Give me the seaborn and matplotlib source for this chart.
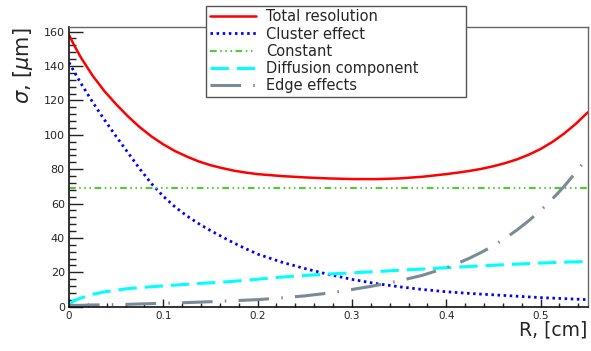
import numpy as np
import pandas as pd
import matplotlib
matplotlib.use("Agg")
import matplotlib.pyplot as plt
from matplotlib.ticker import MultipleLocator
import seaborn as sns

# ---- data ----
R = [0.0, 0.005, 0.0125, 0.025, 0.0375, 0.05, 0.0625, 0.075, 0.0875, 0.1,
     0.1125, 0.125, 0.1375, 0.15, 0.1625, 0.175, 0.1875, 0.2,
     0.225, 0.25, 0.275, 0.3, 0.325, 0.35, 0.375, 0.4,
     0.4125, 0.425, 0.4375, 0.45, 0.4625, 0.475, 0.4875, 0.5,
     0.5125, 0.525, 0.5375, 0.55]
total = [158.0, 152.5, 145.0, 134.4, 125.4, 117.7, 110.7, 104.4, 99.0, 94.4,
         90.5, 87.3, 84.5, 82.3, 80.6, 79.1, 78.0, 77.1,
         76.0, 75.2, 74.6, 74.25, 74.2, 74.6, 75.6, 77.1,
         78.0, 79.0, 80.2, 81.7, 83.5, 85.7, 88.4, 91.7,
         95.8, 100.7, 106.4, 113.0]
cluster = [142.0, 137.1, 130.0, 119.0, 108.75, 99.0, 89.6, 80.2, 71.5, 64.2,
           58.0, 52.8, 48.3, 44.3, 40.6, 37.0, 33.7, 30.6,
           26.0, 22.2, 18.8, 15.9, 13.5, 11.6, 10.0, 8.7,
           8.2, 7.7, 7.3, 6.9, 6.5, 6.1, 5.7, 5.3,
           5.0, 4.7, 4.4, 4.1]
constant = [69.0] * len(R)
diffusion = [1.0, 3.5, 5.0, 7.2, 8.6, 9.6, 10.5, 11.1, 11.6, 12.1,
             12.6, 13.0, 13.5, 13.9, 14.3, 14.8, 15.4, 16.0,
             17.2, 18.2, 19.0, 19.7, 20.4, 21.2, 21.9, 22.7,
             23.05, 23.4, 23.75, 24.1, 24.45, 24.8, 25.1, 25.4,
             25.65, 25.9, 26.1, 26.3]
edge = [0.7, 0.75, 0.8, 1.0, 1.1, 1.2, 1.4, 1.6, 1.8, 2.0,
        2.2, 2.4, 2.65, 2.9, 3.2, 3.5, 3.8, 4.1,
        5.1, 6.3, 7.9, 10.0, 12.3, 15.0, 18.3, 22.7,
        25.3, 28.3, 31.7, 35.5, 39.8, 44.6, 50.0, 56.0,
        62.6, 70.0, 78.2, 87.0]

labels = ["Total resolution", "Cluster effect", "Constant",
          "Diffusion component", "Edge effects"]
series = [total, cluster, constant, diffusion, edge]

sns.set_theme(style="ticks")
plt.rcParams["font.family"] = ["DejaVu Sans"]
plt.rcParams["mathtext.fontset"] = "dejavusans"

fig = plt.figure(figsize=(5.91, 3.51), dpi=100)
ax = fig.add_axes([0.1168, 0.1262, 0.9944 - 0.1168, 0.9222 - 0.1262])

styles = [
    dict(color="#ff0000", lw=1.8, linestyle="-"),
    dict(color="#0000ff", lw=2.0, linestyle=(0, (0.9, 1.3))),
    dict(color="#55c83c", lw=1.6, linestyle=(0, (3.0, 1.6, 0.7, 1.6, 0.7, 1.6, 0.7, 1.6))),
    dict(color="#00ffff", lw=2.2, linestyle=(0, (6.0, 2.6))),
    dict(color="#7a8a96", lw=2.2, linestyle=(0, (10.0, 4.0, 0.5, 4.0))),
]

for vals, lab, st in zip(series, labels, styles):
    df = pd.DataFrame({"R": R, "sigma": vals})
    sns.lineplot(data=df, x="R", y="sigma", ax=ax, label=lab, **st)

ax.set_xlim(0, 0.55)
ax.set_ylim(0, 162.5)
ax.xaxis.set_major_locator(MultipleLocator(0.1))
ax.xaxis.set_minor_locator(MultipleLocator(0.02))
ax.yaxis.set_major_locator(MultipleLocator(20))
ax.yaxis.set_minor_locator(MultipleLocator(4))
ax.set_xticks([0, 0.1, 0.2, 0.3, 0.4, 0.5])
ax.set_xticklabels(["0", "0.1", "0.2", "0.3", "0.4", "0.5"])

ax.tick_params(axis="y", which="major", direction="in", length=10, width=1, labelsize=8, pad=3, color="#222222")
ax.tick_params(axis="y", which="minor", direction="in", length=5, width=1, color="#222222")
ax.tick_params(axis="x", which="major", direction="in", length=6, width=1, labelsize=7.5, pad=3, color="#222222")
ax.tick_params(axis="x", which="minor", direction="in", length=3, width=1, color="#222222")

for s in ["left", "bottom"]:
    ax.spines[s].set_color("#111111")
    ax.spines[s].set_linewidth(1.2)
for s in ["top", "right"]:
    ax.spines[s].set_visible(True)
    ax.spines[s].set_color("#666666")
    ax.spines[s].set_linewidth(1.0)

ax.set_xlabel("R, [cm]", fontsize=13.5, loc="right")
ax.xaxis.set_label_coords(1.0, -0.05)
ax.xaxis.label.set_va("top")
ax.set_ylabel(r"$\sigma$, [$\mu$m]", fontsize=15, loc="top")
ax.yaxis.set_label_coords(-0.065, 1.0)

leg = ax.legend(loc="upper left",
                bbox_to_anchor=(206 / 591, 1 - 99 / 351, 260 / 591, 93.3 / 351),
                bbox_transform=fig.transFigure, mode="expand", borderaxespad=0,
                fontsize=10.5, handlelength=3.15, handletextpad=0.72, borderpad=0.25,
                labelspacing=0.15, frameon=True, fancybox=False, framealpha=1)
leg.get_frame().set_edgecolor("#555555")
leg.get_frame().set_linewidth(1.0)

fig.savefig("out.png", dpi=100)
